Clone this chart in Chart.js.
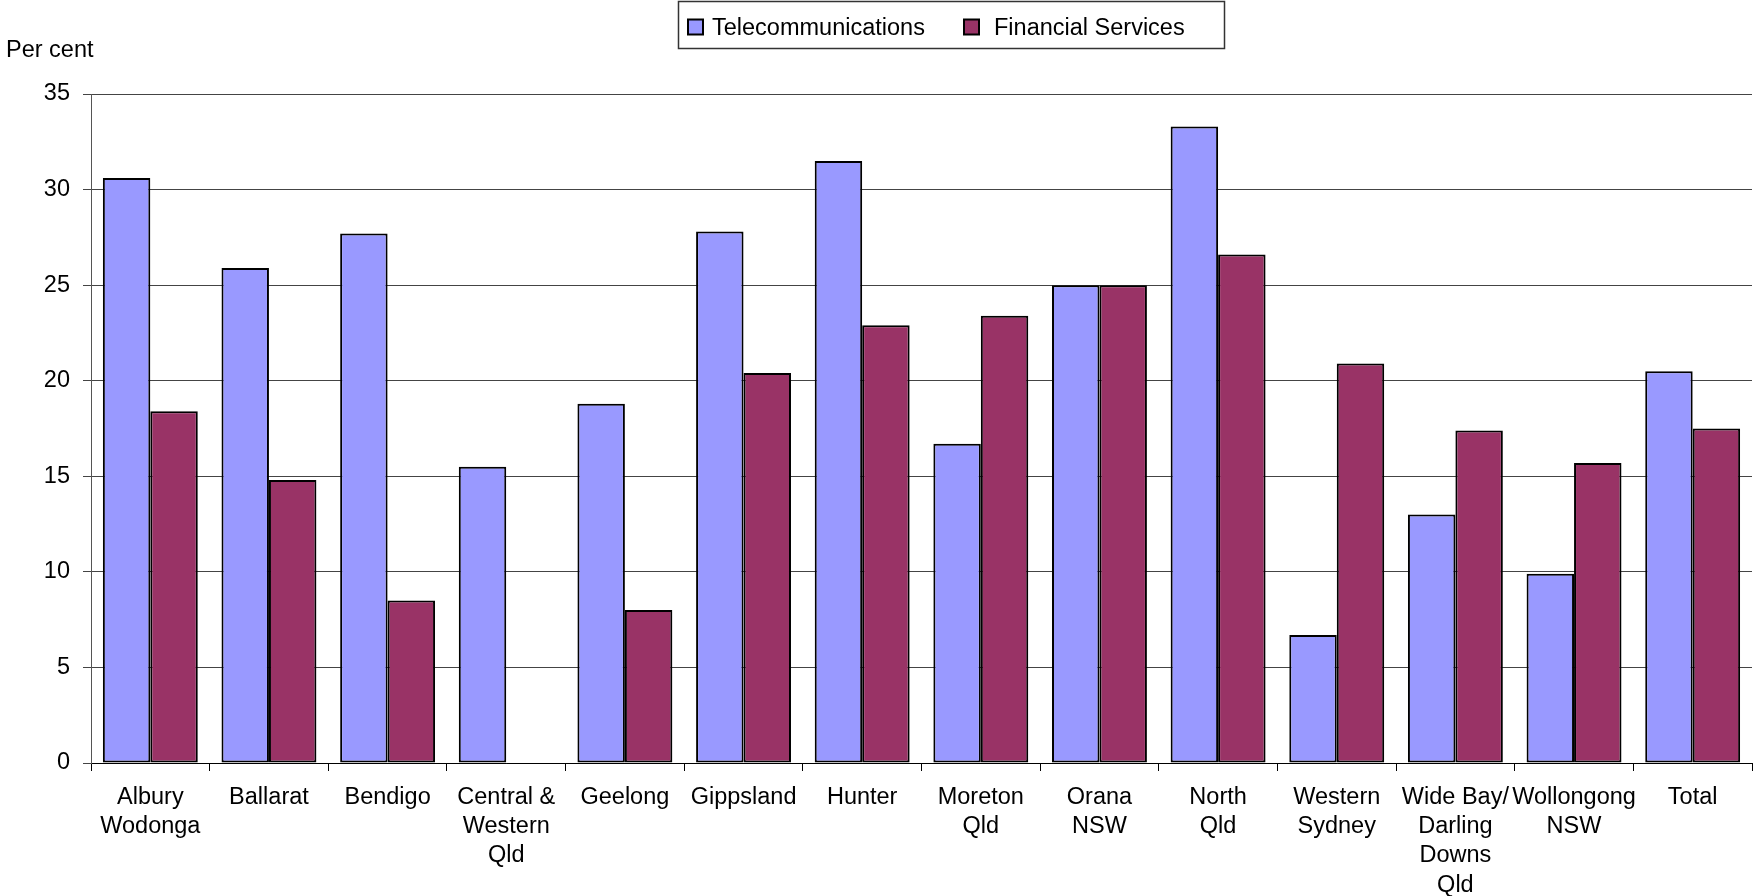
<!DOCTYPE html>
<html>
<head>
<meta charset="utf-8">
<script src="https://cdn.jsdelivr.net/npm/chart.js@4/dist/chart.umd.min.js"></script>
<style>
  html, body { margin: 0; padding: 0; background: #fff; }
  #wrap { width: 1753px; height: 896px; }
</style>
</head>
<body>
<div id="wrap"><canvas id="c" width="1753" height="896"></canvas></div>
<script>
// Regions (multi-line labels as arrays of lines)
const regions = [
  ['Albury', 'Wodonga'],
  ['Ballarat'],
  ['Bendigo'],
  ['Central &', 'Western', 'Qld'],
  ['Geelong'],
  ['Gippsland'],
  ['Hunter'],
  ['Moreton', 'Qld'],
  ['Orana', 'NSW'],
  ['North', 'Qld'],
  ['Western', 'Sydney'],
  ['Wide Bay/', 'Darling', 'Downs', 'Qld'],
  ['Wollongong', 'NSW'],
  ['Total']
];

// Share of respondents, per cent
const telecommunications = [30.6, 25.9, 27.7, 15.5, 18.8, 27.8, 31.5, 16.7, 25.0, 33.3, 6.7, 13.0, 9.9, 20.5];
const financialServices  = [18.4, 14.8, 8.5, null, 8.0, 20.4, 22.9, 23.4, 25.0, 26.6, 20.9, 17.4, 15.7, 17.5];

const seriesNames = ['Telecommunications', 'Financial Services'];
const yTicks = [0, 5, 10, 15, 20, 25, 30, 35];
const yTitle = 'Per cent';

const FONT = 'Liberation Sans, Arial, Helvetica, sans-serif';
const FONT_SIZE = 23.5;

// Boxed legend and the axis caption, drawn on top of the chart
const decorations = {
  id: 'decorations',
  afterDraw(chart) {
    const ctx = chart.ctx;
    ctx.save();
    ctx.font = FONT_SIZE + 'px ' + FONT;
    ctx.textBaseline = 'middle';
    ctx.textAlign = 'left';
    ctx.fillStyle = '#000';
    ctx.fillText(yTitle, 6, 51);

    // legend frame
    const bx = 678.5, by = 1.5, bw = 546, bh = 47;
    ctx.fillStyle = '#fff';
    ctx.fillRect(bx, by, bw, bh);
    ctx.strokeStyle = '#333';
    ctx.lineWidth = 1.5;
    ctx.strokeRect(bx, by, bw, bh);

    const entries = [
      { x: 688, textX: 712 },
      { x: 964, textX: 994 }
    ];
    chart.data.datasets.forEach((ds, i) => {
      const e = entries[i];
      ctx.fillStyle = ds.backgroundColor;
      ctx.fillRect(e.x, 19.5, 15, 15);
      ctx.strokeStyle = '#000';
      ctx.lineWidth = 2;
      ctx.strokeRect(e.x, 19.5, 15, 15);
      ctx.fillStyle = '#000';
      ctx.fillText(ds.label, e.textX, 28.5);
    });
    ctx.restore();
  }
};

new Chart(document.getElementById('c'), {
  type: 'bar',
  data: {
    labels: regions,
    datasets: [
      {
        label: seriesNames[0],
        data: telecommunications,
        backgroundColor: '#9999FF',
        borderColor: '#000',
        borderWidth: 2,
        borderSkipped: false
      },
      {
        label: seriesNames[1],
        data: financialServices,
        backgroundColor: '#993366',
        borderColor: '#000',
        borderWidth: 2,
        borderSkipped: false
      }
    ]
  },
  options: {
    responsive: false,
    devicePixelRatio: 1,
    animation: false,
    datasets: {
      bar: { categoryPercentage: 0.8, barPercentage: 1.0 }
    },
    layout: { padding: { top: 94, right: 1, left: 0, bottom: 0 } },
    plugins: {
      legend: { display: false },
      title: { display: false },
      tooltip: { enabled: false }
    },
    scales: {
      x: {
        offset: true,
        grid: {
          offset: true,
          drawOnChartArea: false,
          drawTicks: true,
          tickLength: 8,
          color: '#000',
          lineWidth: 1
        },
        border: { display: true, color: '#000', width: 1 },
        ticks: {
          color: '#000',
          font: { family: FONT, size: FONT_SIZE, lineHeight: 1.25 },
          padding: 11.5,
          maxRotation: 0,
          autoSkip: false
        },
        afterFit(scale) { scale.height = 133; }
      },
      y: {
        min: 0,
        max: 35,
        afterBuildTicks(scale) { scale.ticks = yTicks.map(v => ({ value: v })); },
        grid: {
          color: '#444',
          lineWidth: 1,
          tickLength: 8,
          drawTicks: true
        },
        border: { display: true, color: '#555', width: 1 },
        ticks: {
          color: '#000',
          font: { family: FONT, size: FONT_SIZE },
          padding: 13
        },
        afterFit(scale) { scale.width = 91; }
      }
    }
  },
  plugins: [decorations]
});
</script>
</body>
</html>
